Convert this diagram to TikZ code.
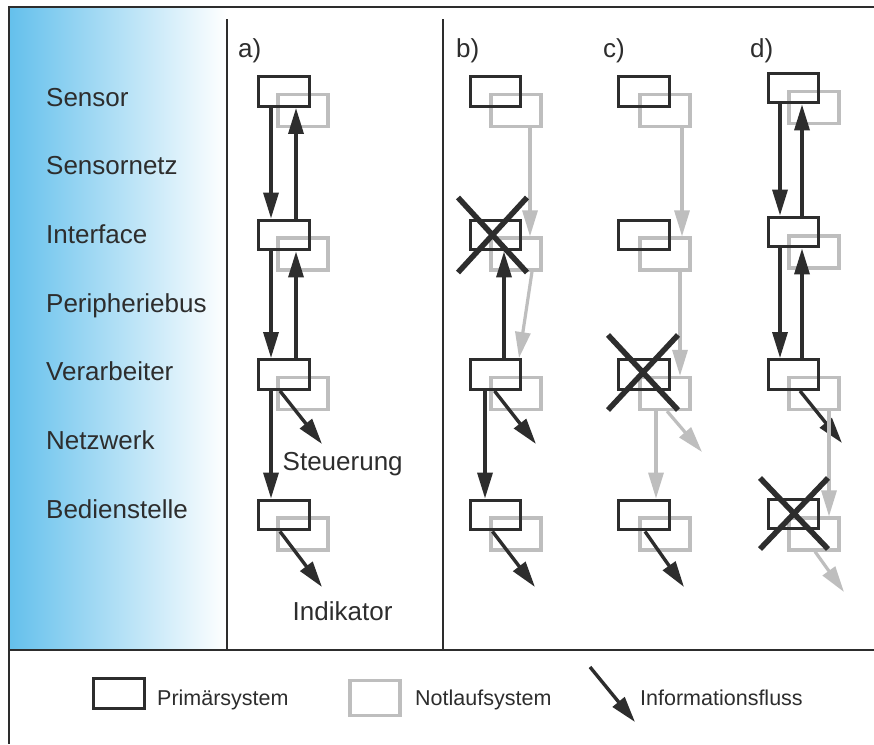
\documentclass[tikz,border=0pt]{standalone}
\usepackage{fontspec}
\setmainfont{Liberation Sans}
\usetikzlibrary{arrows.meta,calc}
\definecolor{ink}{RGB}{45,45,45}
\definecolor{nl}{RGB}{190,190,190}
\definecolor{sky}{RGB}{100,192,236}
\begin{document}
\begin{tikzpicture}[x=1pt,y=-1pt,
  prim/.style={draw=ink,line width=3.4pt,minimum width=50.5pt,minimum height=29.5pt,inner sep=0pt},
  notl/.style={draw=nl,line width=3.2pt,minimum width=50pt,minimum height=32pt,inner sep=0pt},
  flow/.style={color=ink,line width=3.4pt,-{Triangle[length=26pt,width=15pt]}},
  gflow/.style={color=nl,line width=3.2pt,-{Triangle[length=26pt,width=15pt]}},
  xcross/.style={draw=ink,line width=5.5pt},
  lab/.style={text=ink,font=\fontsize{26}{30}\selectfont,inner sep=0pt,anchor=base west},
  leg/.style={text=ink,font=\fontsize{21.5}{26}\selectfont,inner sep=0pt,anchor=base west},
  frameline/.style={draw=ink,line width=1.5pt}]
\useasboundingbox (0,0) rectangle (874,744);
\fill[white] (0,0) rectangle (874,744);
\shade[left color=sky,right color=white] (9,7) rectangle (227,650);
% frame
\draw[frameline] (874,7) -- (9,7) -- (9,744);
\draw[frameline] (9,650) -- (874,650);
\draw[frameline] (227,19) -- (227,650);
\draw[frameline] (443,19) -- (443,650);
% row labels
\node[lab] (r1) at (46,106) {Sensor};
\node[lab] (r2) at (46,174.7) {Sensornetz};
\node[lab] (r3) at (46,243.3) {Interface};
\node[lab] (r4) at (46,312) {Peripheriebus};
\node[lab] (r5) at (46,380.7) {Verarbeiter};
\node[lab] (r6) at (46,449.3) {Netzwerk};
\node[lab] (r7) at (46,518) {Bedienstelle};
% column labels
\node[lab] (ca) at (238,57) {a)};
\node[lab] (cb) at (456,57) {b)};
\node[lab] (cc) at (603,57) {c)};
\node[lab] (cd) at (750,57) {d)};
% ---------- column a
\node[notl] (aSg) at (303,110.5) {};
\node[prim] (aS) at (284,91.5) {};
\node[notl] (aIg) at (303,254) {};
\node[prim] (aI) at (284,235) {};
\node[notl] (aVg) at (303,393.5) {};
\node[prim] (aV) at (284,374.5) {};
\node[notl] (aBg) at (303,534) {};
\node[prim] (aB) at (284,515) {};
\draw[flow] ($(aS.south)+(-13,0)$) -- ($(aI.north)+(-13,0)$);
\draw[flow] ($(aI.north)+(12,0)$) -- ($(aS.south)+(12,0)$);
\draw[flow] ($(aI.south)+(-13,0)$) -- ($(aV.north)+(-13,0)$);
\draw[flow] ($(aV.north)+(12,0)$) -- ($(aI.south)+(12,0)$);
\draw[flow] ($(aV.south)+(-13,0)$) -- ($(aB.north)+(-13,0)$);
\coordinate (aVt) at (322,444);
\draw[flow] ($(aV.south)+(-4,0)$) -- (aVt);
\node[lab] (steu) at (282.5,470) {Steuerung};
\coordinate (aBt) at (322,587);
\draw[flow] ($(aB.south)+(-4,0)$) -- (aBt);
\node[lab] (ind) at (292.5,620) {Indikator};
% ---------- column b
\node[notl] (bSg) at (516,110.5) {};
\node[prim] (bS) at (495.5,91.5) {};
\node[notl] (bIg) at (516,254) {};
\node[prim] (bI) at (495.5,235) {};
\node[notl] (bVg) at (516,393.5) {};
\node[prim] (bV) at (495.5,374.5) {};
\node[notl] (bBg) at (516,534) {};
\node[prim] (bB) at (495.5,515) {};
\draw[gflow] ($(bSg.south)+(14,0)$) -- ($(bIg.north)+(14,0)$);
\draw[gflow] ($(bIg.south)+(16,0)$) -- ($(bV.north)+(23.5,0)$);
\draw[flow] ($(bV.north)+(8.5,0)$) -- ($(bI.south)+(8.5,0)$);
\draw[flow] ($(bV.south)+(-10.5,0)$) -- ($(bB.north)+(-10.5,0)$);
\coordinate (bVt) at (536,444);
\draw[flow] ($(bV.south)+(-1,0)$) -- (bVt);
\coordinate (bBt) at (535,587);
\draw[flow] ($(bB.south)+(-3,0)$) -- (bBt);
\draw[xcross] ($(bI)+(-37.5,-37.5)$) -- ($(bI)+(31.5,37.5)$);
\draw[xcross] ($(bI)+(31.5,-37.5)$) -- ($(bI)+(-37.5,37.5)$);
% ---------- column c
\node[notl] (cSg) at (665,110.5) {};
\node[prim] (cS) at (644,91.5) {};
\node[notl] (cIg) at (665,254) {};
\node[prim] (cI) at (644,235) {};
\node[notl] (cVg) at (665,393.5) {};
\node[prim] (cV) at (644,374.5) {};
\node[notl] (cBg) at (665,534) {};
\node[prim] (cB) at (644,515) {};
\draw[gflow] ($(cSg.south)+(17,0)$) -- ($(cIg.north)+(17,0)$);
\draw[gflow] ($(cIg.south)+(15,0)$) -- ($(cVg.north)+(15,0)$);
\draw[gflow] ($(cVg.south)+(-9,0)$) -- ($(cB.north)+(12,0)$);
\coordinate (cVgt) at (702,452);
\draw[gflow] ($(cVg.south)+(2,0)$) -- (cVgt);
\coordinate (cBt) at (684,587);
\draw[flow] ($(cB.south)+(1,0)$) -- (cBt);
\draw[xcross] ($(cV)+(-36,-39.5)$) -- ($(cV)+(34,35.5)$);
\draw[xcross] ($(cV)+(34,-39.5)$) -- ($(cV)+(-36,35.5)$);
% ---------- column d
\node[notl] (dSg) at (814,107.5) {};
\node[prim] (dS) at (793.5,88) {};
\node[notl] (dIg) at (814,252) {};
\node[prim] (dI) at (793.5,232) {};
\node[notl] (dVg) at (814,393.5) {};
\node[prim] (dV) at (793.5,374.5) {};
\node[notl] (dBg) at (814,534) {};
\node[prim] (dB) at (793.5,514) {};
\draw[flow] ($(dS.south)+(-13.5,0)$) -- ($(dI.north)+(-13.5,0)$);
\draw[flow] ($(dI.north)+(8.5,0)$) -- ($(dS.south)+(8.5,0)$);
\draw[flow] ($(dI.south)+(-13.5,0)$) -- ($(dV.north)+(-13.5,0)$);
\draw[flow] ($(dV.north)+(8.5,0)$) -- ($(dI.south)+(8.5,0)$);
\coordinate (dVt) at (842,443);
\draw[flow] ($(dV.south)+(6.5,0)$) -- (dVt);
\draw[gflow] ($(dVg.south)+(15,0)$) -- ($(dBg.north)+(15,0)$);
\coordinate (dBgt) at (844,592);
\draw[gflow] ($(dBg.south)+(1,0)$) -- (dBgt);
\draw[xcross] ($(dB)+(-33.5,-36)$) -- ($(dB)+(34.5,35)$);
\draw[xcross] ($(dB)+(34.5,-36)$) -- ($(dB)+(-33.5,35)$);
% ---------- legend
\node[prim] (lp) at (119,693.5) {};
\node[leg] (lpt) at (157,705) {Primärsystem};
\node[notl,minimum height=35pt] (ln) at (375,698) {};
\node[leg] (lnt) at (415,705) {Notlaufsystem};
\coordinate (lfs) at (590,667);
\coordinate (lfe) at (635,722);
\draw[flow] (lfs) -- (lfe);
\node[leg] (lft) at (640,705) {Informationsfluss};
\end{tikzpicture}
\end{document}
